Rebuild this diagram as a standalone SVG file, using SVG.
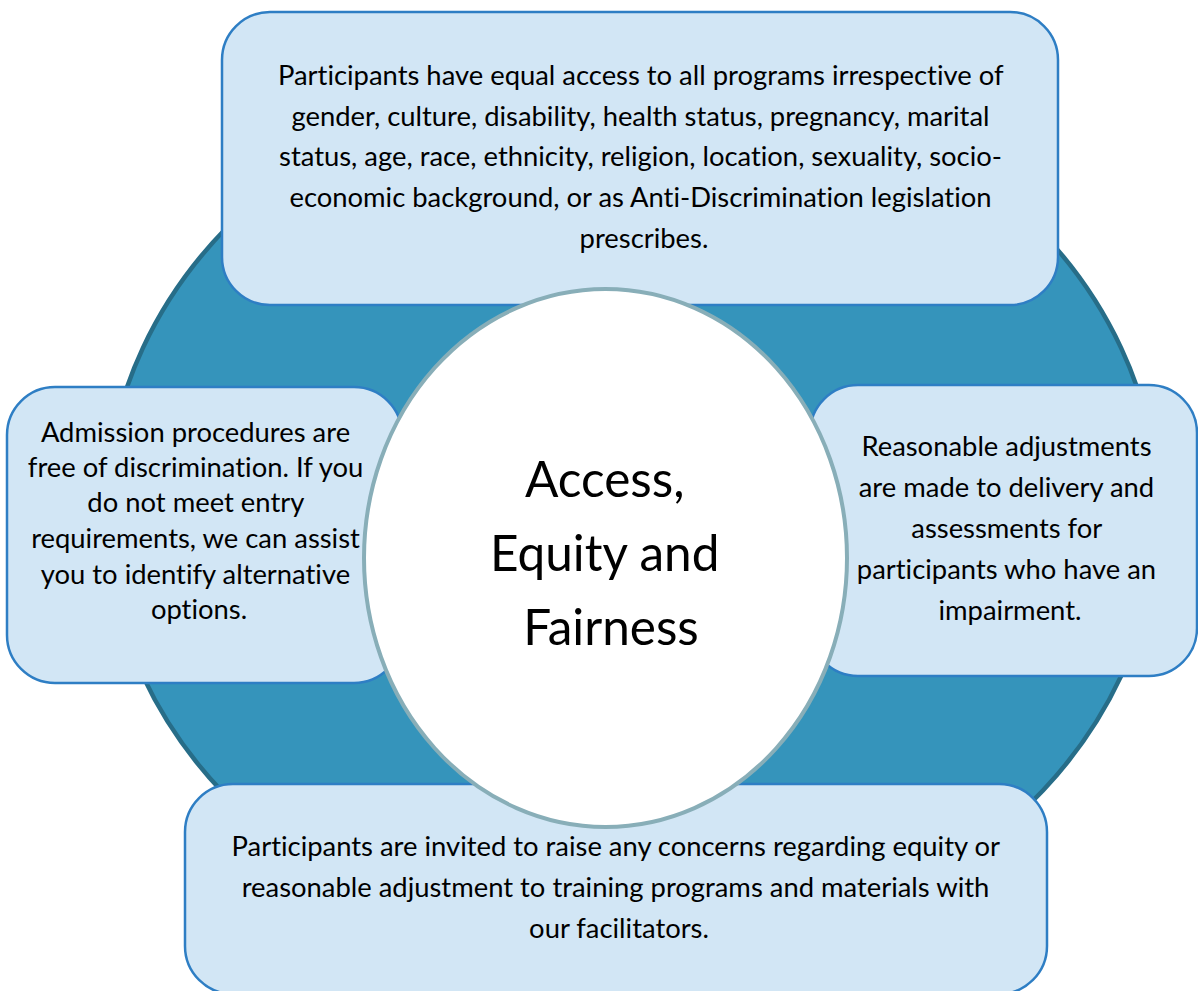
<svg xmlns="http://www.w3.org/2000/svg" width="1198" height="991" viewBox="0 0 1198 991">
  <style>
    .box { fill: #d2e6f5; stroke: #2e7ec4; stroke-width: 2.5; }
    .txt { font-family: Lato, "Liberation Sans", sans-serif; font-size: 27.4px; fill: #000; text-anchor: middle; font-variant-ligatures: none; }
    .title { font-family: Lato, "Liberation Sans", sans-serif; font-size: 49.5px; fill: #000; text-anchor: middle; font-variant-ligatures: none; }
  </style>
  <rect x="0" y="0" width="1198" height="991" fill="#ffffff"/>

  <!-- background ring -->
  <g id="ring">
    <ellipse cx="632" cy="512" rx="526" ry="446" fill="#3594bb" stroke="#276d88" stroke-width="4.5"/>
  </g>

  <g id="node-top">
    <rect class="box" x="222" y="12" width="836" height="293" rx="48" ry="48"/>
    <text class="txt">
      <tspan x="644" y="85">Participants have equal access to all programs irrespective of</tspan>
      <tspan x="644" y="126">gender, culture, disability, health status, pregnancy, marital</tspan>
      <tspan x="644" y="166">status, age, race, ethnicity, religion, location, sexuality, socio-</tspan>
      <tspan x="644" y="207">economic background, or as Anti-Discrimination legislation</tspan>
      <tspan x="644" y="248">prescribes.</tspan>
    </text>
  </g>

  <g id="node-left">
    <rect class="box" x="7" y="387" width="395" height="296" rx="48" ry="48"/>
    <text class="txt">
      <tspan x="199" y="442">Admission procedures are</tspan>
      <tspan x="199" y="477">free of discrimination. If you</tspan>
      <tspan x="199" y="512">do not meet entry</tspan>
      <tspan x="199" y="548">requirements, we can assist</tspan>
      <tspan x="199" y="584">you to identify alternative</tspan>
      <tspan x="199" y="619">options.</tspan>
    </text>
  </g>

  <g id="node-right">
    <rect class="box" x="810" y="385" width="387" height="291" rx="48" ry="48"/>
    <text class="txt">
      <tspan x="1010" y="456">Reasonable adjustments</tspan>
      <tspan x="1010" y="497">are made to delivery and</tspan>
      <tspan x="1010" y="538">assessments for</tspan>
      <tspan x="1010" y="579">participants who have an</tspan>
      <tspan x="1010" y="620">impairment.</tspan>
    </text>
  </g>

  <g id="node-bottom">
    <rect class="box" x="185" y="784" width="862" height="210" rx="48" ry="48"/>
    <text class="txt">
      <tspan x="619" y="856">Participants are invited to raise any concerns regarding equity or</tspan>
      <tspan x="619" y="897">reasonable adjustment to training programs and materials with</tspan>
      <tspan x="619" y="938">our facilitators.</tspan>
    </text>
  </g>

  <g id="node-center">
    <ellipse cx="605.5" cy="558" rx="241.5" ry="269" fill="#ffffff" stroke="#88aeb8" stroke-width="4"/>
    <text class="title">
      <tspan x="611" y="497">Access,</tspan>
      <tspan x="611" y="571">Equity and</tspan>
      <tspan x="611" y="645">Fairness</tspan>
    </text>
  </g>

  <g id="connectors"/>
</svg>
